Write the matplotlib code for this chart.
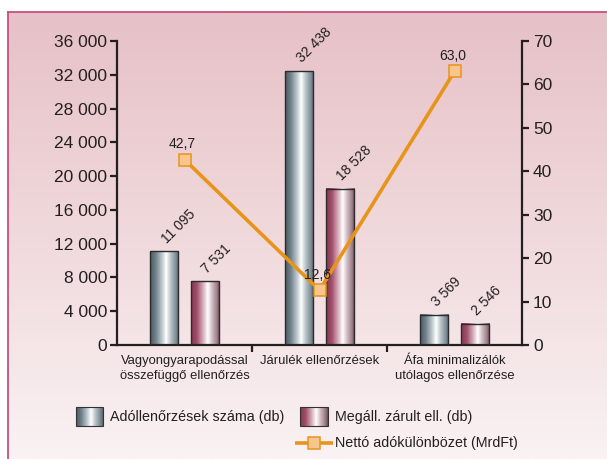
import numpy as np
import matplotlib
matplotlib.use("Agg")
import matplotlib.pyplot as plt
from matplotlib.colors import LinearSegmentedColormap

categories = ["Vagyongyarapodással\nösszefüggő ellenőrzés",
              "Járulék ellenőrzések",
              "Áfa minimalizálók\nutólagos ellenőrzése"]
ado_db = [11095, 32438, 3569]
zarult_db = [7531, 18528, 2546]
netto_mrdft = [42.7, 12.6, 63.0]
series_names = ["Adóllenőrzések száma (db)", "Megáll. zárult ell. (db)",
                "Nettó adókülönbözet (MrdFt)"]
left_ticks = list(range(0, 36001, 4000))
right_ticks = list(range(0, 71, 10))

plt.rcParams['font.family'] = ['Liberation Sans', 'DejaVu Sans']
TXT = '#231f20'
ORANGE = '#e8941a'
MFACE = '#f6c68c'

gray_cmap = LinearSegmentedColormap.from_list(
    "gray_bar", [(0, "#4a5961"), (0.2, "#72828a"), (0.42, "#c0cbd0"),
                 (0.56, "#ffffff"), (0.72, "#b8c3c8"), (0.9, "#7e8d94"), (1, "#5a6971")])
red_cmap = LinearSegmentedColormap.from_list(
    "red_bar", [(0, "#8a3452"), (0.2, "#a04f6a"), (0.42, "#d8afbc"),
                (0.58, "#ffffff"), (0.74, "#cfb8c0"), (0.9, "#9e7f8a"), (1, "#73495a")])
grad = np.linspace(0, 1, 200).reshape(1, -1)


def fmt_thousands(v):
    return f"{v:,.0f}".replace(",", " ")


fig = plt.figure(figsize=(6.07, 4.59), dpi=100)
fig.patch.set_facecolor('white')

# background, frame and legend drawn in pixel coordinates
bg = fig.add_axes([0, 0, 1, 1], zorder=-5)
bg.axis('off')
bg_cmap = LinearSegmentedColormap.from_list("bg", ["#e6c1c7", "#f0d9dc", "#faf2f3"])
bg.imshow(np.linspace(0, 1, 300).reshape(-1, 1), cmap=bg_cmap, aspect='auto',
          extent=[8, 607, 459, 12])
bg.plot([8, 8], [459, 12], color='#c64f7c', lw=1.3)
bg.plot([8, 607], [12, 12], color='#c64f7c', lw=1.3)

for (x0, x1), cm, name, tx in [((76, 103), gray_cmap, series_names[0], 110),
                               ((300, 328), red_cmap, series_names[1], 335)]:
    bg.imshow(grad, cmap=cm, aspect='auto', extent=[x0, x1, 426, 407])
    bg.add_patch(plt.Rectangle((x0, 407), x1 - x0, 19, fill=False, ec='#333333', lw=0.8))
    bg.text(tx, 417, name, va='center', ha='left', fontsize=10.3, color=TXT)
bg.plot([295, 333], [443, 443], color=ORANGE, lw=2.6, solid_capstyle='butt')
bg.plot([314], [443], marker='s', ms=8.5, mfc=MFACE, mec=ORANGE, mew=1.1)
bg.text(335, 443, series_names[2], va='center', ha='left', fontsize=10.3, color=TXT)
bg.set_xlim(0, 607)
bg.set_ylim(459, 0)

# main chart
ax = fig.add_axes([117 / 607, 1 - 345 / 459, (522 - 117) / 607, (345 - 41) / 459])
ax.patch.set_alpha(0)
x = np.arange(len(categories))
w = 0.21
off = 0.15

for vals, cm, sign in [(ado_db, gray_cmap, -1), (zarult_db, red_cmap, 1)]:
    bars = ax.bar(x + sign * off, vals, w, color='none', edgecolor='#2b2b2b', lw=1, zorder=3)
    for b, v in zip(bars, vals):
        ax.imshow(grad, cmap=cm, aspect='auto', zorder=2,
                  extent=[b.get_x(), b.get_x() + b.get_width(), 0, b.get_height()])
        ax.annotate(fmt_thousands(v), (b.get_x() + b.get_width() / 2 + 0.035, v),
                    xytext=(0, 4), textcoords='offset points', rotation=45,
                    rotation_mode='anchor', ha='left', va='bottom',
                    fontsize=10, color=TXT)

ax.set_xlim(-0.5, 2.5)
ax.set_ylim(0, 36000)
ax.set_yticks(left_ticks, [fmt_thousands(t) for t in left_ticks])
ax.set_xticks(x, categories)
ax.set_xticks([0.5, 1.5], minor=True)
ax.tick_params(axis='x', which='major', length=0, pad=7, labelsize=9.4, labelcolor=TXT)
ax.tick_params(axis='x', which='minor', direction='out', length=5, width=1.6, color=TXT)
ax.tick_params(axis='y', direction='out', length=5, width=1.6, color=TXT,
               labelsize=12.5, labelcolor=TXT, pad=2)
for lbl in ax.get_xticklabels():
    lbl.set_linespacing(1.4)
for s in ['top', 'right']:
    ax.spines[s].set_visible(False)
for s in ['left', 'bottom']:
    ax.spines[s].set_linewidth(1.6)
    ax.spines[s].set_color(TXT)

ax2 = ax.twinx()
ax2.plot(x, netto_mrdft, color=ORANGE, lw=2.6, marker='s', ms=8.5,
         mfc=MFACE, mec=ORANGE, mew=1.1, zorder=5)
for xi, v in zip(x, netto_mrdft):
    ax2.annotate(f"{v:.1f}".replace(".", ","), (xi, v), xytext=(-1.5, 8),
                 textcoords='offset points', ha='center', va='baseline',
                 fontsize=10, color=TXT, zorder=6)
ax2.set_ylim(0, 70)
ax2.set_yticks(right_ticks)
ax2.tick_params(axis='y', direction='out', length=5, width=1.6, color=TXT,
                labelsize=12.5, labelcolor=TXT, pad=3)
for s in ['top', 'left', 'bottom']:
    ax2.spines[s].set_visible(False)
ax2.spines['right'].set_linewidth(1.6)
ax2.spines['right'].set_color(TXT)

fig.savefig('out.png', dpi=100)
